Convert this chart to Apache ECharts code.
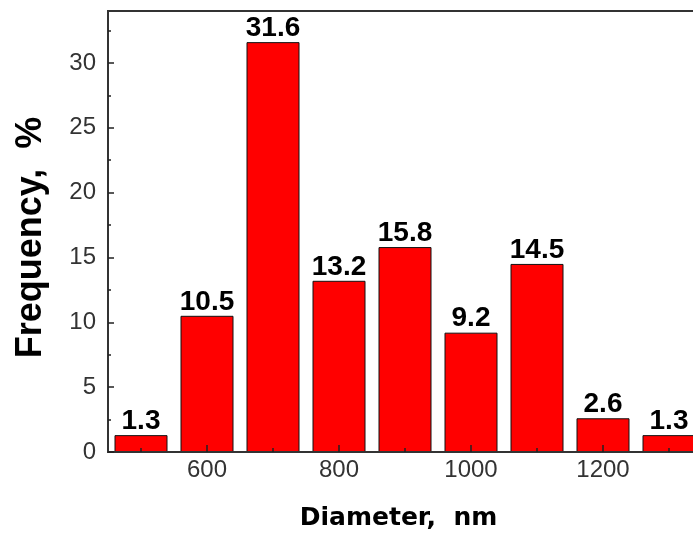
<!DOCTYPE html>
<html>
<head>
<meta charset="utf-8">
<script src="https://cdn.jsdelivr.net/npm/echarts@6/dist/echarts.min.js"></script>
<style>
html,body{margin:0;padding:0;background:#fff;}
#chart{width:693px;height:535px;}
</style>
</head>
<body>
<div id="chart"></div>
<script>
const diameters = [500, 600, 700, 800, 900, 1000, 1100, 1200, 1300];
const frequencies = [1.3, 10.5, 31.6, 13.2, 15.8, 9.2, 14.5, 2.6, 1.3];
const xMajorTicks = [600, 800, 1000, 1200];
const xMinorTicks = [500, 700, 900, 1100, 1300];
const yMajorTicks = [0, 5, 10, 15, 20, 25, 30];
const yMinorTicks = [2.5, 7.5, 12.5, 17.5, 22.5, 27.5, 32.5];

const chart = echarts.init(document.getElementById('chart'), null, {renderer: 'canvas'});
const tickFont = {fontFamily: 'Liberation Sans', fontSize: 24, color: '#333', formatter: v => String(v)};

const option = {
  animation: false,
  backgroundColor: '#fff',
  grid: {left: 108, top: 11, width: 594, height: 441, show: true, borderColor: '#333', borderWidth: 2,
         containLabel: false, outerBoundsMode: 'none'},
  xAxis: [
    {
      type: 'value', min: 450, max: 1350, position: 'bottom', z: 5,
      axisLine: {lineStyle: {color: '#333', width: 2}},
      axisTick: {inside: true, length: 7, customValues: xMajorTicks, lineStyle: {color: '#222', width: 1.5}},
      axisLabel: Object.assign({customValues: xMajorTicks, margin: 6}, tickFont),
      splitLine: {show: false},
      name: 'Diameter,  nm', nameLocation: 'middle', nameGap: 54,
      nameTextStyle: {fontFamily: 'DejaVu Sans', fontWeight: 'bold', fontSize: 25, color: '#000', padding: [0, 13, 0, 0]}
    },
    {
      type: 'value', min: 450, max: 1350, position: 'bottom', z: 5,
      axisLine: {show: false},
      axisTick: {inside: true, length: 4, customValues: xMinorTicks, lineStyle: {color: '#222', width: 1.5}},
      axisLabel: {show: false},
      splitLine: {show: false}
    }
  ],
  yAxis: [
    {
      type: 'value', min: 0, max: 34, position: 'left', z: 5,
      axisLine: {show: true, lineStyle: {color: '#333', width: 2}},
      axisTick: {show: true, inside: true, length: 6, customValues: yMajorTicks, lineStyle: {color: '#222', width: 1.5}},
      axisLabel: Object.assign({customValues: yMajorTicks, margin: 12}, tickFont),
      splitLine: {show: false},
      name: 'Frequency,  %', nameLocation: 'middle', nameRotate: 90, nameGap: 59,
      nameTextStyle: {fontFamily: 'Liberation Sans', fontWeight: 'bold', fontSize: 36, color: '#000', padding: [0, 12, 0, 0]}
    },
    {
      type: 'value', min: 0, max: 34, position: 'left', z: 5,
      axisLine: {show: false},
      axisTick: {show: true, inside: true, length: 3, customValues: yMinorTicks, lineStyle: {color: '#222', width: 1.5}},
      axisLabel: {show: false},
      splitLine: {show: false}
    }
  ],
  series: [{
    type: 'bar', xAxisIndex: 0, yAxisIndex: 0,
    data: diameters.map((d, i) => [d, frequencies[i]]),
    barWidth: 53,
    itemStyle: {color: '#ff0000', borderColor: '#111', borderWidth: 1},
    label: {
      show: true, position: 'top', distance: 0,
      fontFamily: 'Liberation Sans', fontWeight: 'bold', fontSize: 28, color: '#000',
      formatter: p => p.value[1].toFixed(1)
    }
  }]
};
chart.setOption(option);
</script>
</body>
</html>
